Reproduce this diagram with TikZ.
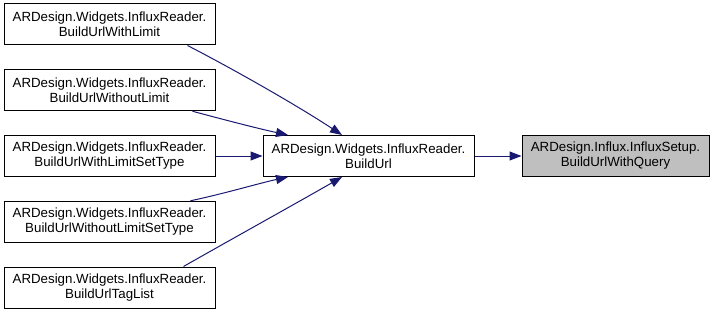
\documentclass[tikz,border=0pt]{standalone}
\usepackage{fontspec}
\setmainfont{Liberation Sans}
\usetikzlibrary{arrows.meta}
\definecolor{edgeblue}{RGB}{25,25,112}
\definecolor{selgray}{RGB}{191,191,191}
\begin{document}
\begin{tikzpicture}[x=1pt, y=-1pt,
		fn/.style={draw, fill=white, line width=1pt, minimum width=211pt, minimum height=41pt, inner sep=2pt, align=center, font=\fontsize{13.3}{15}\selectfont},
		call/.style={color=edgeblue, line width=1pt, -{Triangle[length=12pt, width=9pt]}}]
		
		\useasboundingbox (0,0) rectangle (715,313);
		
		\node[fn] (withlimit) at (109.5,24.5) {ARDesign.Widgets.InfluxReader.\\BuildUrlWithLimit};
		\node[fn] (withoutlimit) at (109.5,90.25) {ARDesign.Widgets.InfluxReader.\\BuildUrlWithoutLimit};
		\node[fn] (withlimitsettype) at (109.5,156) {ARDesign.Widgets.InfluxReader.\\BuildUrlWithLimitSetType};
		\node[fn] (withoutlimitsettype) at (109.5,221.75) {ARDesign.Widgets.InfluxReader.\\BuildUrlWithoutLimitSetType};
		\node[fn] (taglist) at (109.5,287.5) {ARDesign.Widgets.InfluxReader.\\BuildUrlTagList};
		
		\node[fn] (buildurl) at (368.5,156) {ARDesign.Widgets.InfluxReader.\\BuildUrl};
		\node[fn, fill=selgray, minimum width=187pt] (withquery) at (615.5,156) {ARDesign.Influx.InfluxSetup.\\BuildUrlWithQuery};
		
		\draw[call] ([xshift=-28pt]withlimit.south east) .. controls (235,70) and (298,106) .. ([xshift=-26.5pt]buildurl.north);
		\draw[call] ([xshift=-23pt]withoutlimit.south east) .. controls (225,120) and (260,129) .. ([xshift=-80.5pt]buildurl.north);
		\draw[call] (withlimitsettype.east) -- (buildurl.west);
		\draw[call] ([xshift=-25pt]withoutlimitsettype.north east) .. controls (223,194) and (260,183) .. ([xshift=-80.5pt]buildurl.south);
		\draw[call] ([xshift=-32pt]taglist.north east) .. controls (230,240) and (295,204) .. ([xshift=-26.5pt]buildurl.south);
		
		\draw[call] (buildurl.east) -- (withquery.west);
		
		\end{tikzpicture}
\end{document}
